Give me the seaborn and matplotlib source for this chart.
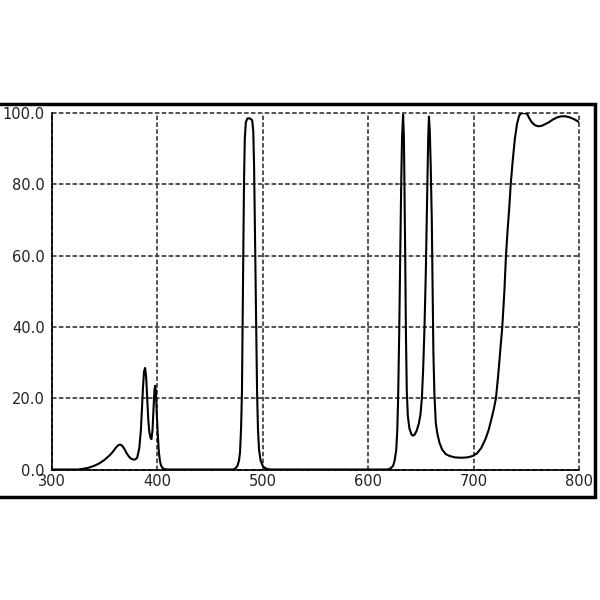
import matplotlib
matplotlib.use("Agg")
import matplotlib.pyplot as plt
from matplotlib.patches import Rectangle
from matplotlib.ticker import FormatStrFormatter
import seaborn as sns
import pandas as pd

# transmission curve (nm, %)
# UV double peak around 390 nm
wl_uv = [300, 310, 320, 325, 330, 335, 340, 345, 350, 355, 358, 361, 363, 365,
         367, 369, 371, 373, 375, 377, 379, 381, 383, 384.5, 385.5, 386.5,
         387.5, 388.5, 389.5, 390.5, 391.5, 392.5, 393.5, 394.5, 395.5, 396.5,
         397.3, 398, 398.7, 399.5, 400.5, 401.5, 402.5, 403.5, 405, 407, 410, 440]
tr_uv = [0, 0, 0, 0, 0.2, 0.5, 1.0, 1.7, 2.7, 4.0, 5.0, 6.2, 6.8, 7.0,
         6.6, 5.7, 4.6, 3.7, 3.1, 2.8, 2.8, 3.3, 6, 11, 17, 23,
         27.5, 28.5, 26, 20, 14, 10.5, 9, 8.5, 11, 17,
         22, 23.5, 22, 16, 10, 5, 2.5, 1.2, 0.4, 0.1, 0, 0]

# blue band near 487 nm
wl_blue = [472, 474, 476, 477.5, 478.5, 479.5, 480.3, 481, 481.7, 482.3, 483,
           484, 485.5, 488, 490, 491, 491.8, 492.5, 493.2, 493.8, 494.6,
           495.5, 496.5, 498, 500, 502, 505, 508, 560]
tr_blue = [0, 0.3, 1, 2.5, 5, 12, 22, 45, 65, 82, 93,
           97.5, 98.5, 98.5, 98, 95, 85, 70, 55, 40, 22,
           11, 5.5, 2.5, 1, 0.4, 0.1, 0, 0]

# red doublet and the near-infrared edge
wl_red = [618, 621, 623.5, 625, 626.5, 627.5, 628.3, 629.3, 630.3, 631.2, 632,
          633, 633.8, 634.5, 635, 635.7, 636.5, 637.5, 639, 641, 642.5, 644,
          646, 648, 649.5, 650.8, 652, 653.3, 654.5, 655.3, 656.1, 656.8,
          657.5, 658.3, 659.2, 660.2, 661, 661.7, 662.7, 664, 665.5, 667.5,
          670, 673.5, 677, 682, 688, 694, 699, 703, 707, 711, 714, 717, 719,
          721, 723, 725, 727, 729, 730.5, 732, 733.5, 735, 737, 739, 741, 743,
          745, 748, 750.5, 752.5, 755, 758, 761, 764, 767, 771, 775, 779, 783,
          787, 791, 795, 798, 800]
tr_red = [0, 0.3, 1, 2.5, 5.5, 11, 20, 38, 60, 80, 93,
          99.5, 93, 75, 60, 38, 22, 15, 11.5, 9.8, 9.5, 9.8,
          11, 13, 15.5, 20, 28, 40, 55, 68, 82, 93,
          99, 95, 85, 70, 50, 33, 21, 13, 10, 7.5,
          5.6, 4.3, 3.8, 3.4, 3.3, 3.4, 3.8, 4.5, 6, 8.5, 11, 14.5, 17,
          20, 26, 33, 40, 50, 60, 67, 73, 80, 87, 93, 97, 99.3,
          100, 100, 99.8, 98.6, 97.4, 96.6, 96.3, 96.4, 96.8, 97.4, 98.2, 98.8, 99.1,
          99.1, 98.8, 98.3, 97.8, 97.4]

x_ticks = [300, 400, 500, 600, 700, 800]
y_ticks = [0, 20, 40, 60, 80, 100]

df = pd.DataFrame({
    "wavelength": wl_uv + wl_blue + wl_red,
    "transmission": tr_uv + tr_blue + tr_red,
})

sns.set_style("white")
plt.rcParams["font.family"] = ["DejaVu Sans"]

fig = plt.figure(figsize=(6, 6), dpi=100)
ax = fig.add_axes([0.0862, 0.2175, 0.8793, 0.594])

sns.lineplot(data=df, x="wavelength", y="transmission", ax=ax,
             color="black", linewidth=1.5, estimator=None)

ax.set_xlim(300, 800)
ax.set_ylim(0, 100)
ax.set_xticks(x_ticks)
ax.set_yticks(y_ticks)
ax.yaxis.set_major_formatter(FormatStrFormatter("%.1f"))
ax.set_xlabel("")
ax.set_ylabel("")
ax.tick_params(length=0, labelsize=10.5, labelcolor="#222222")
ax.tick_params(axis="x", pad=3.5)
ax.tick_params(axis="y", pad=5)
# lift the y labels a touch so "0.0" clears "300", as in the original
for lab in ax.get_yticklabels():
    lab.set_verticalalignment("center_baseline")

ax.grid(True, linestyle=(0, (2.5, 1.3)), color="#444444", linewidth=1.3)
ax.set_axisbelow(True)
# edge gridlines (100 and 800) act as the top/right border, keep them whole
for gl in ax.get_xgridlines() + ax.get_ygridlines():
    gl.set_clip_on(False)
for side in ["top", "right"]:
    ax.spines[side].set_visible(False)
for side in ["left", "bottom"]:
    ax.spines[side].set_color("black")
    ax.spines[side].set_linewidth(1.2)

# the heavy outer box of the original image
fig.add_artist(Rectangle((-0.01, 0.1717), 1.0017, 0.655, transform=fig.transFigure,
                         fill=False, edgecolor="black", linewidth=2.5))

fig.savefig("out.png", dpi=100)
